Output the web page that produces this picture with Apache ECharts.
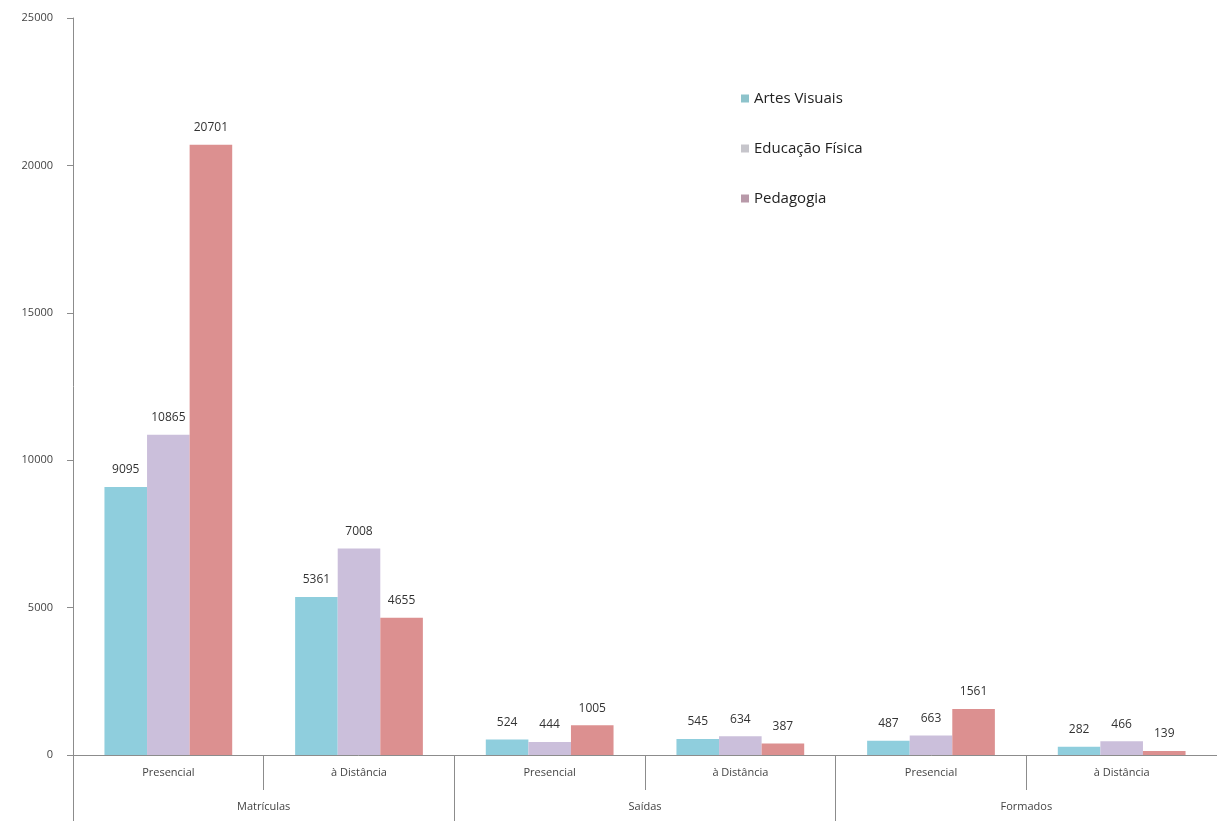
<!DOCTYPE html>
<html>
<head>
<meta charset="utf-8">
<script src="https://cdn.jsdelivr.net/npm/echarts@6/dist/echarts.min.js"></script>
<style>
  html, body { margin: 0; padding: 0; background: #fff; }
  #chart { width: 1217px; height: 821px; }
</style>
</head>
<body>
<div id="chart"></div>
<script>
// Sub-categories (modalidade) and their parent groups
const categories = ['Presencial', 'à Distância', 'Presencial', 'à Distância', 'Presencial', 'à Distância'];
const groups = ['Matrículas', 'Saídas', 'Formados'];

// Values per course, in the order of the categories above
const artesVisuais   = [9095, 5361, 524, 545, 487, 282];
const educacaoFisica = [10865, 7008, 444, 634, 663, 466];
const pedagogia      = [20701, 4655, 1005, 387, 1561, 139];

const yTicks = { min: 0, max: 25000, interval: 5000 };

const FONT = "'Open Sans', 'Liberation Sans', sans-serif";
const colors = ['#8FCEDD', '#CBBFDB', '#DC9090'];
const legendColors = ['#8DC3CB', '#C6C5CB', '#B899A9'];
const names = ['Artes Visuais', 'Educação Física', 'Pedagogia'];
const seriesValues = [artesVisuais, educacaoFisica, pedagogia];

const chart = echarts.init(document.getElementById('chart'), null, { renderer: 'canvas' });

chart.setOption({
  animation: false,
  backgroundColor: '#fff',
  textStyle: { fontFamily: FONT },
  grid: { left: 73, right: 0, top: 18, bottom: 66, containLabel: false },
  legend: {
    orient: 'vertical',
    left: 736,
    top: 86,
    itemWidth: 8,
    itemHeight: 8,
    itemGap: 35,
    icon: 'rect',
    textStyle: { fontFamily: FONT, fontSize: 15, color: '#222' },
    data: names.map((n, i) => ({ name: n, itemStyle: { color: legendColors[i] } }))
  },
  xAxis: [
    {
      type: 'category',
      data: categories,
      position: 'bottom',
      axisLine: { show: true, lineStyle: { color: '#8c8c8c', width: 1 } },
      axisTick: { show: true, alignWithLabel: false, length: 35, lineStyle: { color: '#8c8c8c' } },
      axisLabel: { fontFamily: FONT, fontSize: 11, color: '#444', margin: 12 },
      splitLine: { show: false }
    },
    {
      type: 'category',
      data: groups,
      position: 'bottom',
      axisLine: { show: false },
      axisTick: { show: true, alignWithLabel: false, length: 66, lineStyle: { color: '#8c8c8c' } },
      axisLabel: { fontFamily: FONT, fontSize: 11, color: '#444', margin: 46 },
      splitLine: { show: false }
    }
  ],
  yAxis: {
    type: 'value',
    min: yTicks.min,
    max: yTicks.max,
    interval: yTicks.interval,
    axisLine: { show: true, lineStyle: { color: '#8c8c8c', width: 1 } },
    axisTick: { show: true, length: 6, lineStyle: { color: '#8c8c8c' } },
    axisLabel: { fontFamily: FONT, fontSize: 11, color: '#444', margin: 20, formatter: v => String(v) },
    splitLine: { show: false }
  },
  series: seriesValues.map((vals, i) => ({
    name: names[i],
    type: 'bar',
    xAxisIndex: 0,
    data: vals,
    barGap: '0%',
    barCategoryGap: '33%',
    itemStyle: { color: colors[i] },
    label: {
      show: true,
      position: 'top',
      distance: 11,
      fontFamily: FONT,
      fontSize: 12,
      color: '#333'
    }
  }))
});
</script>
</body>
</html>
